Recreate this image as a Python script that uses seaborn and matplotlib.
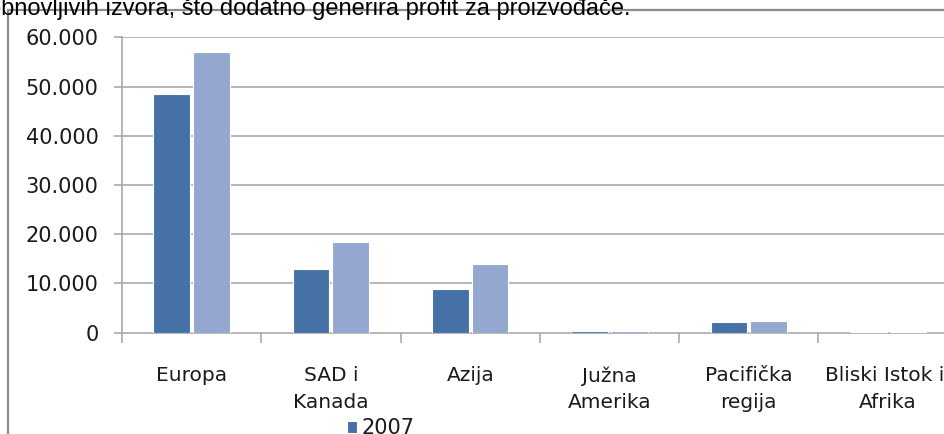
import matplotlib
matplotlib.use("Agg")
import matplotlib.pyplot as plt
import matplotlib.ticker as mticker
from matplotlib.patches import Rectangle
import seaborn as sns
import pandas as pd

regions = ["Europa", "SAD i\nKanada", "Azija", "Južna\nAmerika", "Pacifička\nregija", "Bliski Istok i \nAfrika"]
years = ["2007", "2008"]
values_2007 = [48400, 12900, 8900, 300, 2100, 80]
values_2008 = [57000, 18500, 13900, 300, 2400, 80]
colors = ["#4671A6", "#94A8CF"]
header = "obnovljivih izvora, što dodatno generira profit za proizvođače."

df = pd.DataFrame({
    "regija": regions * 2,
    "godina": [years[0]] * len(regions) + [years[1]] * len(regions),
    "vrijednost": values_2007 + values_2008,
})

sns.set_style("white")
plt.rcParams["font.family"] = ["DejaVu Sans"]

W, H = 944, 434
fig = plt.figure(figsize=(W / 100, H / 100), dpi=100)
fig.patch.set_facecolor("white")

# axes placed in pixel terms of the reference
x0, x1 = 122, 957.8
y0, y1 = 332.7, 37.3
ax = fig.add_axes([x0 / W, (H - y0) / H, (x1 - x0) / W, (y0 - y1) / H])

sns.barplot(data=df, x="regija", y="vrijednost", hue="godina", palette=colors,
            width=0.57, gap=0.075, edgecolor="white", linewidth=0.8,
            saturation=1, ax=ax, zorder=3)

ax.set_xlim(-0.5, len(regions) - 0.5)
ax.set_ylim(0, 60000)
ax.set_yticks(range(0, 60001, 10000))
ax.yaxis.set_major_formatter(mticker.FuncFormatter(lambda v, p: f"{int(v):,}".replace(",", ".")))
ax.set_xlabel("")
ax.set_ylabel("")

grid_c = "#A3A3A3"
for v in range(10000, 60001, 10000):
    ax.axhline(v, color=grid_c, lw=1.1, zorder=1)

for s in ["top", "right"]:
    ax.spines[s].set_visible(False)
ax.spines["left"].set_color(grid_c)
ax.spines["bottom"].set_color(grid_c)
ax.spines["left"].set_linewidth(1.1)
ax.spines["bottom"].set_linewidth(1.1)

ax.tick_params(axis="y", which="major", direction="out", length=6, width=1.1,
               color=grid_c, pad=11, labelsize=15, labelcolor="#1a1a1a", left=True)
ax.set_xticks([i - 0.5 for i in range(len(regions) + 1)], minor=True)
ax.tick_params(axis="x", which="minor", direction="out", length=7, width=1.1,
               color=grid_c, bottom=True)
ax.tick_params(axis="x", which="major", length=0, pad=24, labelsize=14.5,
               labelcolor="#1a1a1a")
for lab in ax.get_xticklabels():
    lab.set_linespacing(1.5)

leg = ax.legend(loc="upper left", bbox_to_anchor=(347 / W, (H - 418) / H),
                bbox_transform=fig.transFigure, frameon=False, ncol=1,
                fontsize=15, handlelength=0.5, handleheight=0.5,
                handletextpad=0.2, borderpad=0, borderaxespad=0, labelspacing=0.3)
for t in leg.get_texts():
    t.set_color("#1a1a1a")

# chart frame, cut off on the right and bottom
fig.patches.append(Rectangle((8 / W, -0.1), 1.2, (H - 10) / H + 0.1,
                             transform=fig.transFigure, fill=False,
                             edgecolor="#8C8C8C", lw=1.6, zorder=0))

fig.text(-12 / W, (H - 14.5) / H, header, fontsize=17, family="Liberation Sans",
         va="baseline", ha="left", color="black")

fig.savefig("out.png", dpi=100, facecolor="white")
